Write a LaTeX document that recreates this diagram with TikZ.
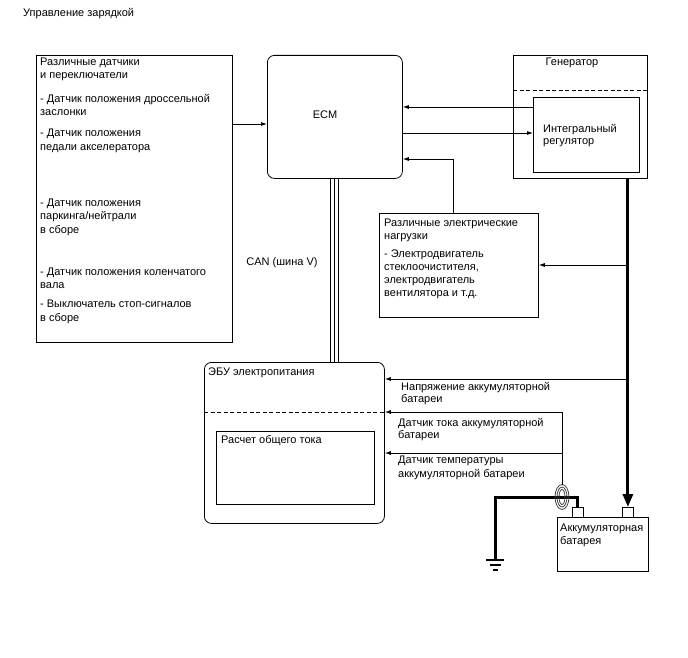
\documentclass[tikz,border=0pt]{standalone}
\usepackage{fontspec}
\setmainfont{Liberation Sans}
\usetikzlibrary{arrows.meta,calc}
\begin{document}
\begin{tikzpicture}[x=1pt,y=-1pt,
  box/.style={draw,line width=0.8pt,rectangle,inner sep=0pt,anchor=north west},
  rbox/.style={box,rounded corners=7pt},
  txt/.style={inner sep=0pt,anchor=base west,font=\fontsize{11}{13}\selectfont},
  ctxt/.style={inner sep=0pt,anchor=center,font=\fontsize{11}{13}\selectfont},
  arr/.style={line width=0.8pt,-{Latex[length=6pt,width=4pt]}},
  ln/.style={line width=0.8pt},
  thk/.style={line width=3pt,line join=miter},
  dsh/.style={line width=0.8pt,dash pattern=on 4pt off 2.5pt},
  coilst/.style={line width=0.8pt,black!75},
]
\useasboundingbox (0,0) rectangle (688,658);

% boxes
\node[box,minimum width=196pt,minimum height=287pt] (sens) at (36,55) {};
\node[rbox,minimum width=135pt,minimum height=123pt] (ecm) at (267,55) {};
\node[box,minimum width=134pt,minimum height=123pt] (gen) at (513,55) {};
\node[box,minimum width=106pt,minimum height=75pt] (reg) at (533,97) {};
\node[box,minimum width=159pt,minimum height=104pt] (load) at (379,213) {};
\node[rbox,minimum width=180pt,minimum height=161pt] (ebu) at (204,362) {};
\node[box,minimum width=158pt,minimum height=73pt] (calc) at (216,431) {};
\node[box,minimum width=91pt,minimum height=54pt] (bat) at (557,517) {};
\node[box,minimum width=11pt,minimum height=10pt] (tL) at (572,507) {};
\node[box,minimum width=11pt,minimum height=10pt] (tR) at (622,507) {};

% dashed separators
\draw[dsh] (gen.west |- 0,90) -- (gen.east |- 0,90);
\draw[dsh] (ebu.west |- 0,412) -- (ebu.east |- 0,412);

% texts
\node[txt] (title) at (23,17) {Управление зарядкой};
\foreach \i/\yy/\t in {1/66/{Различные датчики},2/79/{и переключатели},
  3/103/{- Датчик положения дроссельной},4/116/{заслонки},
  5/137/{- Датчик положения},6/150/{педали акселератора},
  7/206/{- Датчик положения},8/219/{паркинга/нейтрали},9/233/{в сборе},
  10/275/{- Датчик положения коленчатого},11/288/{вала},
  12/307/{- Выключатель стоп-сигналов},13/321/{в сборе}}
  \node[txt] (s\i) at (40,\yy) {\t};
\node[ctxt] (ecmt) at (325,115) {ECM};
\node[ctxt] (gent) at (572,63) {Генератор};
\node[txt] (r1) at (543,132) {Интегральный};
\node[txt] (r2) at (543,145) {регулятор};
\foreach \i/\yy/\t in {1/226/{Различные электрические},2/239/{нагрузки},
  3/257/{- Электродвигатель},4/270/{стеклоочистителя,},
  5/283/{электродвигатель},6/296/{вентилятора и т.д.}}
  \node[txt] (l\i) at (384,\yy) {\t};
\node[ctxt] (cant) at (282,263) {CAN (шина V)};
\node[txt] (ebut) at (208,375) {ЭБУ электропитания};
\node[txt] (calct) at (221,443) {Расчет общего тока};
\node[txt] (v1) at (401,390) {Напряжение аккумуляторной};
\node[txt] (v2) at (401,402) {батареи};
\node[txt] (c1) at (398,426) {Датчик тока аккумуляторной};
\node[txt] (c2) at (398,438) {батареи};
\node[txt] (m1) at (398,463) {Датчик температуры};
\node[txt] (m2) at (398,477) {аккумуляторной батареи};
\node[txt] (b1) at (560,531) {Аккумуляторная};
\node[txt] (b2) at (560,544) {батарея};

% connectors
\draw[arr] (sens.east |- 0,124) -- (ecm.west |- 0,124);
\draw[arr] (reg.west |- 0,107) -- (ecm.east |- 0,107);
\draw[arr] (ecm.east |- 0,133) -- (reg.west |- 0,133);
\draw[arr] (load.north -| 453,0) |- (ecm.east |- 0,159);

% CAN bus
\foreach \xx in {330.5,334.5,338.5}
  \draw[ln] (ecm.south -| \xx,0) -- (ebu.north -| \xx,0);

% main thick line generator -> battery
\draw[thk,-{Triangle[length=13pt,width=10pt]}] (gen.south -| tR.north) -- (tR.north);
\draw[arr] (tR.north |- 0,265) -- (load.east |- 0,265);
\draw[arr] (tR.north |- 0,379) -- (ebu.east |- 0,379);

% current / temperature sensor
\coordinate (coil) at (562,497);
\coordinate (gnd) at (495,560);
\draw[thk] (gnd) |- (tL.north |- coil) -- (tL.north);
\draw[coilst] (coil) ellipse [x radius=7pt, y radius=12.5pt];
\draw[coilst] (coil) ellipse [x radius=5pt, y radius=10pt];
\draw[coilst] (coil) ellipse [x radius=3pt, y radius=7.5pt];
\draw[arr] ($(coil)+(0,-12.5)$) |- (ebu.east |- 0,412);
\draw[arr] (coil |- 0,453) -- (ebu.east |- 0,453);

% ground symbol
\draw[line width=1.2pt] ($(gnd)+(-9,0)$) -- ($(gnd)+(9,0)$);
\draw[line width=1.4pt] ($(gnd)+(-5.5,5)$) -- ($(gnd)+(5.5,5)$);
\draw[line width=1.6pt] ($(gnd)+(-2.5,10)$) -- ($(gnd)+(2.5,10)$);
\end{tikzpicture}
\end{document}
